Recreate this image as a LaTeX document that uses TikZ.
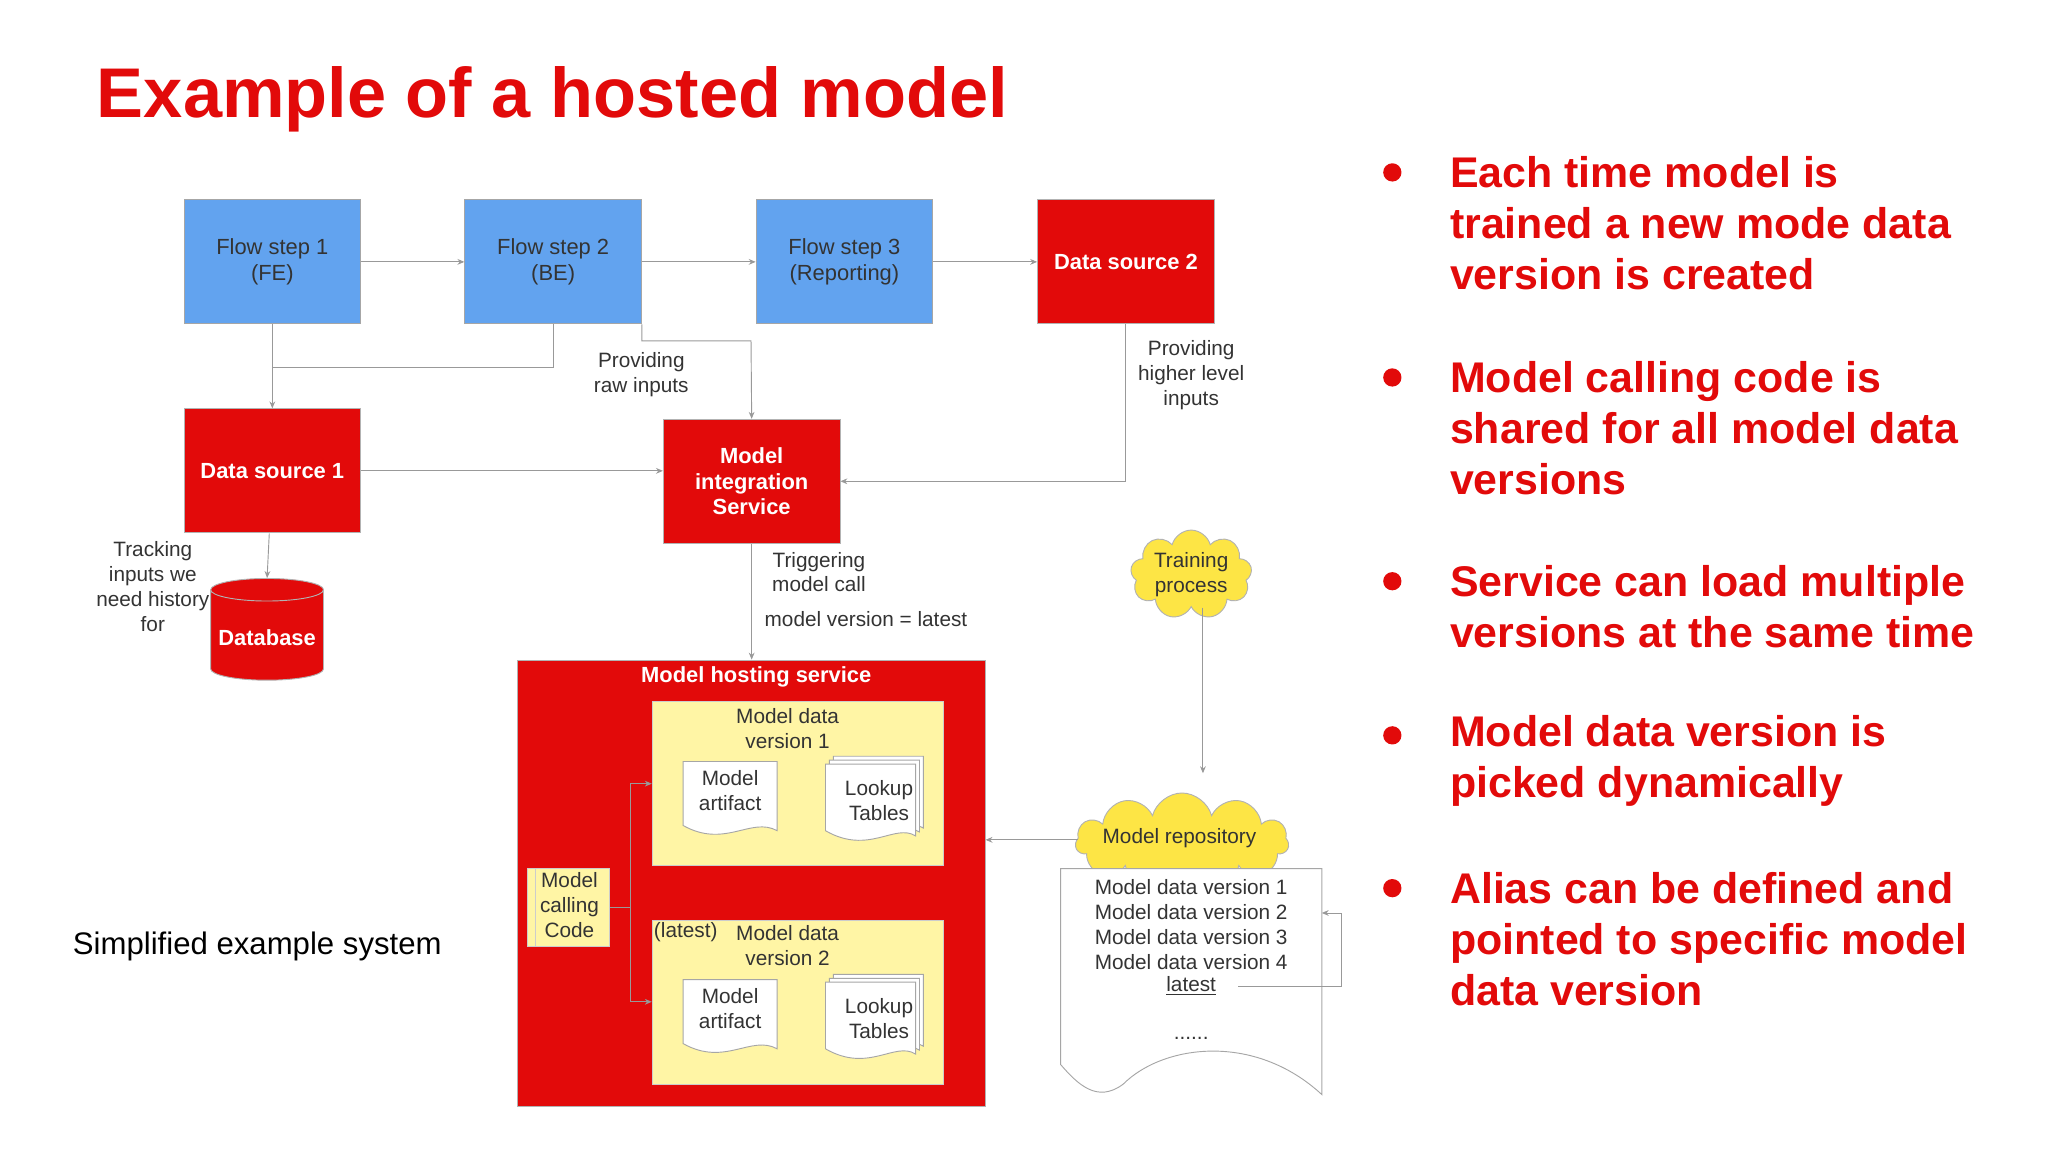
\documentclass[tikz,border=0pt]{standalone}
\usepackage{fontspec}
\setmainfont{Liberation Sans}
\usetikzlibrary{shapes.geometric,shapes.symbols,arrows.meta}
\definecolor{myred}{HTML}{E20A0A}
\definecolor{myblue}{HTML}{62A3EF}
\definecolor{myyellow}{HTML}{FFF5A5}
\definecolor{cloudy}{HTML}{FDE545}
\definecolor{txt}{HTML}{333333}
\begin{document}
\begin{tikzpicture}[x=0.0199cm,y=-0.0199cm,
  blue/.style={draw=gray!70,fill=myblue,minimum width=2.69cm,minimum height=1.89cm,align=center,font=\fontsize{9.5}{11}\selectfont,text=txt},
  redb/.style={draw=gray!60,fill=myred,minimum width=2.69cm,minimum height=1.89cm,align=center,font=\fontsize{9.5}{11}\selectfont\bfseries,text=white},
  lbl/.style={align=center,font=\fontsize{9}{10.8}\selectfont,text=txt},
  arr/.style={draw=gray!80,-{Stealth[length=3pt,width=2.5pt]},line width=0.4pt},
  ln/.style={draw=gray!80,line width=0.4pt},
  yel/.style={draw=gray!40,fill=myyellow},
  bul/.style={anchor=west,align=left,font=\fontsize{18.6}{22}\selectfont\bfseries,text=myred}]
\useasboundingbox (0,0) rectangle (1568,882);
\node[anchor=base west,font=\fontsize{30.5}{36}\selectfont\bfseries,text=myred] (title) at (68,90) {Example of a hosted model};
% flow
\node[blue] (f1) at (208.5,200.5) {Flow step 1\\(FE)};
\node[blue] (f2) at (423.5,200.5) {Flow step 2\\(BE)};
\node[blue] (f3) at (646.5,200.5) {Flow step 3\\(Reporting)};
\node[redb] (d2) at (862,200.5) {Data source 2};
\node[redb] (d1) at (208.5,360.5) {Data source 1};
\node[redb] (mis) at (575.5,368.5) {Model\\integration\\Service};
\draw[arr] (f1) -- (f2);
\draw[arr] (f2) -- (f3);
\draw[arr] (f3) -- (d2);
\draw[arr] (f1) -- (d1);
\draw[ln] (f2.south) |- (208,281);
\draw[arr] (f2.south east) |- (575,261) -- (mis.north);
\draw[arr] (d2.south) |- (mis.east);
\draw[arr] (d1.east) -- (mis.west |- d1.east);
\node[lbl] (raw) at (491,287) {Providing\\raw inputs};
\node[lbl] (hli) at (912,287) {Providing\\higher level\\inputs};
% database
\node[cylinder,shape border rotate=90,aspect=0.2,draw=gray!60,fill=myred,minimum width=1.55cm,minimum height=1.55cm,text=white,font=\fontsize{9.5}{11}\selectfont\bfseries] (db) at (204.5,488.5) {\raisebox{-4pt}{Database}};
\draw[arr] (d1) -- (db.top);
\node[lbl] (trk) at (117,449) {Tracking\\inputs we\\need history\\for};
% hosting
\node[draw=gray!60,fill=myred,minimum width=7.12cm,minimum height=6.8cm,anchor=north west] (host) at (396,505) {};
\node[font=\fontsize{9.5}{11}\selectfont\bfseries,text=white] (hostl) at (579,518) {Model hosting service};
\draw[arr] (mis) -- (host.north -| mis);
\node[lbl] (trig) at (627,438) {Triggering\\model call};
\node[lbl] (mv) at (663,474) {model version = latest};
\foreach \i/\dy/\v in {1/0/1,2/167/2}{
  \node[yel,minimum width=4.44cm,minimum height=2.5cm,anchor=north west] (v\i) at (499,537+\dy) {};
  \draw[draw=gray!70,fill=white] (523,583+\dy) -- (595,583+\dy) -- (595,636+\dy) .. controls (575,625+\dy) and (555,650+\dy) .. (523,632+\dy) -- cycle;
  \node[lbl] (ma\i) at (559,605+\dy) {Model\\artifact};
  \foreach \o in {6,3,0}{
    \draw[draw=gray!70,fill=white] (632+\o,585+\dy-\o) -- (707-6+\o,585+\dy-\o) -- (707-6+\o,640+\dy-\o) .. controls (685+\o,630+\dy-\o) and (665+\o,655+\dy-\o) .. (632+\o,636+\dy-\o) -- cycle;}
  \node[lbl] (lt\i) at (673,613+\dy) {Lookup\\Tables};
}
\node[lbl,anchor=north] (mdv1) at (603,536) {Model data\\version 1};
\node[lbl,anchor=north] (mdv2) at (603,702) {Model data\\version 2};
\node[lbl] (lat) at (525,714) {(latest)};
\node[yel,minimum width=1.25cm,minimum height=1.19cm,lbl] (mcc) at (435.5,695) {};
\draw[draw=gray!40] (410,665) -- (410,725);
\node[lbl] (mcct) at (436,693) {Model\\calling\\Code};
\draw[ln] (mcc.east) -- (483,695);
\draw[arr] (483,695) |- (v1.west |- 0,600);
\draw[arr] (483,695) |- (v2.west |- 0,767);
% training / repo
\node[cloud,cloud puffs=9,aspect=1.6,draw=gray!60,fill=cloudy,lbl,inner sep=0pt,minimum width=1.85cm,minimum height=1.2cm] (tp) at (912,440) {Training\\process};
\node[cloud,cloud puffs=11,aspect=2.2,draw=gray!60,fill=cloudy,lbl,minimum width=3.25cm,minimum height=1.5cm,anchor=south] (rep) at (905,667) {};
\node[lbl] (rept) at (903,642) {Model repository};
\draw[arr] (tp.south -| 921,0) -- (921,592);
\draw[arr] (825,643) -- (host.east |- 0,643);
\draw[draw=gray!70,fill=white] (812,665) -- (1012,665) -- (1012,838) .. controls (960,790) and (890,800) .. (860,830) .. controls (840,845) and (825,830) .. (812,815) -- cycle;
\node[lbl,anchor=north] (list) at (912,667) {Model data version 1\\Model data version 2\\Model data version 3\\Model data version 4};
\node[lbl] (latest) at (912,755) {\underline{latest}};
\node[lbl] (dots) at (912,795) {......};
\draw[arr] (948,755) -- (1027,755) -- (1027,699) -- (1012,699);
\node[font=\fontsize{13.5}{16}\selectfont,text=black] (simp) at (197,725) {Simplified example system};
% bullets
\foreach \y/\t in {171/{Each time model is\\trained a new mode data\\version is created},
  328/{Model calling code is\\shared for all model data\\versions},
  464.5/{Service can load multiple\\versions at the same time},
  582.5/{Model data version is\\picked dynamically},
  719/{Alias can be defined and\\pointed to specific model\\data version}}{
  \node[bul] at (1104,\y) {\t};}
\foreach \y in {132,289,445,563,680}{\fill[myred] (1066,\y) circle (7);}
\end{tikzpicture}
\end{document}
